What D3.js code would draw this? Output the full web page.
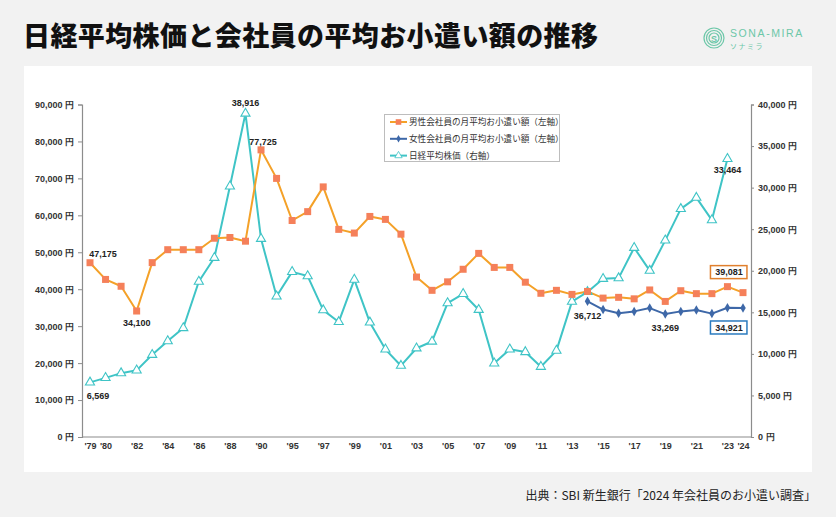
<!DOCTYPE html>
<html><head><meta charset="utf-8">
<script src="https://cdn.jsdelivr.net/npm/d3@7"></script>
<style>
html,body{margin:0;padding:0;background:#f2f2f2;}
svg{display:block;}
</style></head>
<body>
<svg id="c" width="836" height="517"></svg>
<script>
const years = [1979,1980,1981,1982,1983,1984,1985,1986,1987,1988,1989,1990,1992,
  1995,1996,1997,1998,1999,2000,2001,2002,2003,2004,2005,2006,2007,2008,2009,2010,
  2011,2012,2013,2014,2015,2016,2017,2018,2019,2020,2021,2022,2023,2024];
const shownTicks = [1979,1980,1982,1984,1986,1988,1990,1995,1997,1999,2001,2003,2005,2007,2009,2011,2013,2015,2017,2019,2021,2023,2024];
const maleAllowance = [47175,42650,40800,34100,47200,50700,50700,50700,53800,54000,53000,77725,70000,
  58600,61000,67700,56200,55200,59700,58900,54900,43300,39700,42000,45400,49700,45900,45900,41900,
  38900,39700,38600,39400,37600,37800,37400,39800,36700,39600,38800,38800,40700,39081];
const femaleAllowance = [null,null,null,null,null,null,null,null,null,null,null,null,null,
  null,null,null,null,null,null,null,null,null,null,null,null,null,null,null,null,
  null,null,null,36712,34500,33500,34000,34900,33269,34000,34400,33400,35000,34921];
const nikkei = [6569,7116,7682,8017,9894,11543,13113,18701,21564,30159,38916,23849,16925,
  19868,19361,15259,13842,18934,13786,10543,8579,10677,11489,16111,17226,15308,8860,10546,10229,
  8455,10395,16291,17451,19034,19114,22765,20015,23657,27444,28792,26095,33464,null];
const leftTicks = [0,10000,20000,30000,40000,50000,60000,70000,80000,90000];
const rightTicks = [0,5000,10000,15000,20000,25000,30000,35000,40000];
const seriesNames = ["男性会社員の月平均お小遣い額（左軸）","女性会社員の月平均お小遣い額（左軸）","日経平均株価（右軸）"];
const titleText = "日経平均株価と会社員の平均お小遣い額の推移";
const sourceText = "出典：SBI 新生銀行「2024 年会社員のお小遣い調査」";

const svg = d3.select("#c");
const LAT = "'Liberation Sans', Arial, sans-serif";
const JP = "'Noto Sans CJK JP', sans-serif";
const maleLine = "#f4a128", maleMark = "#f5805a";
const femColor = "#3e68a8";
const nkColor = "#3fc4c6";

// background & panel
svg.append("rect").attr("width",836).attr("height",517).attr("fill","#f2f2f2");
svg.append("rect").attr("x",24).attr("y",66).attr("width",788).attr("height",406).attr("fill","#ffffff");

// title
svg.append("text").attr("x",23).attr("y",46).attr("font-family",JP).attr("font-weight",900)
  .attr("font-size",27).attr("letter-spacing",0.4).attr("fill","#111").text(titleText);

// logo
const logo = svg.append("g").attr("transform","translate(714,38)");
[10,7.5,5].forEach(r=>logo.append("circle").attr("r",r).attr("fill","none").attr("stroke","#6cc7a8").attr("stroke-width",1.2));
logo.append("text").attr("y",3.5).attr("text-anchor","middle").attr("font-family",LAT).attr("font-size",9).attr("font-weight",700).attr("fill","#6cc7a8").text("S");
svg.append("text").attr("x",730).attr("y",37).attr("font-family",LAT).attr("font-size",10.5).attr("letter-spacing",1.6).attr("fill","#6cc7a8").text("SONA-MIRA");
svg.append("text").attr("x",730).attr("y",49).attr("font-family",JP).attr("font-size",7).attr("letter-spacing",1.5).attr("fill","#6cc7a8").text("ソナミラ");

// scales
const x = d3.scalePoint().domain(years).range([90,743]);
const yL = d3.scaleLinear().domain([0,90000]).range([437,104.5]);
const yR = d3.scaleLinear().domain([0,40000]).range([437,104.5]);
const fmt = d3.format(",");

// axes
const axL = svg.append("g").attr("transform","translate(82,0)")
  .call(d3.axisLeft(yL).tickValues(leftTicks).tickSize(4).tickFormat(d=>fmt(d)+" 円"));
const axR = svg.append("g").attr("transform","translate(751,0)")
  .call(d3.axisRight(yR).tickValues(rightTicks).tickSize(3).tickFormat(d=>fmt(d)+" 円"));
const axB = svg.append("g").attr("transform","translate(0,437)")
  .call(d3.axisBottom(x).tickValues(shownTicks).tickSize(0).tickFormat(d=>"'"+String(d).slice(2)));
axB.select(".domain").attr("d","M82,0H751");
[axL,axR,axB].forEach(a=>{
  a.select(".domain").attr("stroke","#8c8c8c").attr("stroke-width",1.2);
  a.selectAll(".tick line").attr("stroke","#8c8c8c");
  a.selectAll("text").attr("font-family",LAT).attr("font-size",9).attr("font-weight",700).attr("fill","#333");
});
axL.selectAll("text").attr("x",-8);
axR.selectAll("text").attr("x",7);
axB.selectAll("text").attr("dy","0.71em").attr("y",6);

// lines
const idx = years.map((d,i)=>i);
function drawLine(vals, scale, color){
  const line = d3.line().defined(i=>vals[i]!=null).x(i=>x(years[i])).y(i=>scale(vals[i]));
  svg.append("path").attr("d",line(idx)).attr("fill","none").attr("stroke",color).attr("stroke-width",2).attr("stroke-linejoin","round");
}
drawLine(nikkei, yR, nkColor);
drawLine(maleAllowance, yL, maleLine);
drawLine(femaleAllowance, yL, femColor);

// markers
const sq = d3.symbol().type(d3.symbolSquare).size(49);
const tri = d3.symbol().type(d3.symbolTriangle).size(36);
const dia = d3.symbol().type(d3.symbolDiamond).size(26);
svg.append("g").selectAll("path").data(idx.filter(i=>nikkei[i]!=null)).join("path")
  .attr("d",tri).attr("transform",i=>`translate(${x(years[i])},${yR(nikkei[i])})`)
  .attr("fill","#fff").attr("stroke",nkColor).attr("stroke-width",1.1);
svg.append("g").selectAll("path").data(idx).join("path")
  .attr("d",sq).attr("transform",i=>`translate(${x(years[i])},${yL(maleAllowance[i])})`)
  .attr("fill",maleMark);
svg.append("g").selectAll("path").data(idx.filter(i=>femaleAllowance[i]!=null)).join("path")
  .attr("d",dia).attr("transform",i=>`translate(${x(years[i])},${yL(femaleAllowance[i])})`)
  .attr("fill",femColor);

// annotations
function ann(text, px, py, dx, dy){
  svg.append("text").attr("x",px+dx).attr("y",py+dy).attr("text-anchor","middle")
    .attr("font-family",LAT).attr("font-size",9).attr("font-weight",700).attr("fill","#222").text(text);
}
const iOf = y=>years.indexOf(y);
ann(fmt(maleAllowance[0]), x(1979), yL(maleAllowance[0]), 13, -6);
ann(fmt(maleAllowance[iOf(1982)]), x(1982), yL(maleAllowance[iOf(1982)]), 0, 15);
ann(fmt(nikkei[0]), x(1979), yR(nikkei[0]), 8, 17);
ann(fmt(nikkei[iOf(1989)]), x(1989), yR(nikkei[iOf(1989)]), 0, -8);
ann(fmt(maleAllowance[iOf(1990)]), x(1990), yL(maleAllowance[iOf(1990)]), 2, -5);
ann(fmt(nikkei[iOf(2023)]), x(2023), yR(nikkei[iOf(2023)]), 0, 14);
ann(fmt(femaleAllowance[iOf(2014)]), x(2014), yL(femaleAllowance[iOf(2014)]), 0, 18);
ann(fmt(femaleAllowance[iOf(2019)]), x(2019), yL(femaleAllowance[iOf(2019)]), 0, 17);
function boxAnn(text, px, py, dy, color){
  const g = svg.append("g");
  g.append("rect").attr("x",px-18).attr("y",py+dy-6.5).attr("width",36.5).attr("height",13)
    .attr("fill","#fff").attr("stroke",color).attr("stroke-width",1.5);
  g.append("text").attr("x",px+0.5).attr("y",py+dy+3.3).attr("text-anchor","middle")
    .attr("font-family",LAT).attr("font-size",9).attr("font-weight",700).attr("fill","#222").text(text);
}
boxAnn(fmt(maleAllowance[iOf(2024)]), x(2023)+1, yL(maleAllowance[iOf(2024)]), -20.5, "#e07f2d");
boxAnn(fmt(femaleAllowance[iOf(2024)]), x(2023)+1, yL(femaleAllowance[iOf(2024)]), 19.5, "#2a7bbf");

// legend
const lg = svg.append("g");
lg.append("rect").attr("x",384.5).attr("y",114.5).attr("width",175).attr("height",47)
  .attr("fill","#fff").attr("stroke","#bdbdbd");
const rows = [
  {name:seriesNames[0], line:maleLine, sym:sq, fill:maleMark, stroke:"none"},
  {name:seriesNames[1], line:femColor, sym:dia, fill:femColor, stroke:"none"},
  {name:seriesNames[2], line:nkColor, sym:tri, fill:"#fff", stroke:nkColor}
];
rows.forEach((r,i)=>{
  const yy = 122 + i*16.8;
  lg.append("line").attr("x1",390).attr("x2",407).attr("y1",yy).attr("y2",yy).attr("stroke",r.line).attr("stroke-width",2);
  lg.append("path").attr("d",r.sym).attr("transform",`translate(398.5,${yy}) scale(0.8)`).attr("fill",r.fill).attr("stroke",r.stroke);
  lg.append("text").attr("x",409).attr("y",yy+3.2).attr("font-family",JP).attr("font-size",8.6).attr("fill","#333").text(r.name);
});

// source
svg.append("text").attr("x",816).attr("y",500).attr("text-anchor","end").attr("font-family",JP)
  .attr("font-size",12).attr("fill","#222").text(sourceText);
</script>
</body></html>
